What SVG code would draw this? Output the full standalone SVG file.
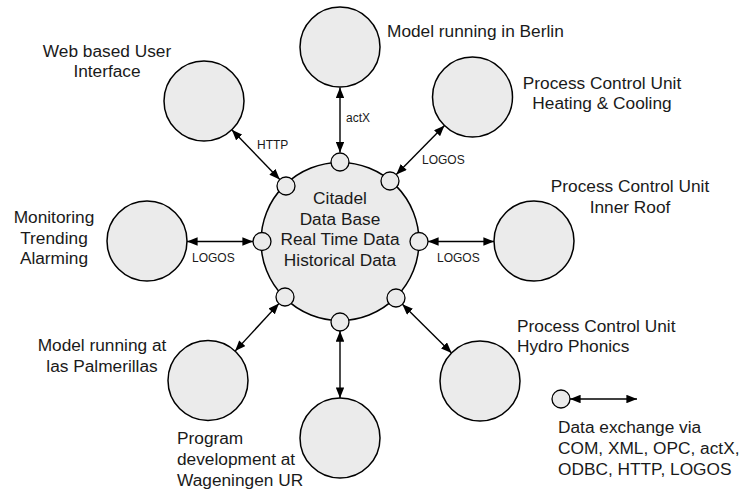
<svg xmlns="http://www.w3.org/2000/svg" width="742" height="491" viewBox="0 0 742 491">
<defs>
<style>
.n{fill:#ebebeb;stroke:#000;stroke-width:1.5}
.p{fill:#ebebeb;stroke:#000;stroke-width:1.3}
.t{font-family:"Liberation Sans",Arial,sans-serif;font-size:17.3px;fill:#1a1a1a}
.c{text-anchor:middle}
.l{font-family:"Liberation Sans",Arial,sans-serif;font-size:12px;fill:#1a1a1a}
.e{stroke:#000;stroke-width:1.4;fill:none;marker-start:url(#ah);marker-end:url(#ah)}
</style>
<marker id="ah" viewBox="0 0 10 8" refX="10" refY="4" markerWidth="11" markerHeight="8.5" markerUnits="userSpaceOnUse" orient="auto-start-reverse">
<path d="M0,0 L10,4 L0,8 Z" fill="#000"/>
</marker>
</defs>
<rect width="742" height="491" fill="#fff"/>
<g id="connectors">
<line class="e" x1="340" y1="87.5" x2="340" y2="152.5"/>
<line class="e" x1="231.8" y1="129.8" x2="279.8" y2="179.5"/>
<line class="e" x1="396.3" y1="174.6" x2="444.5" y2="125.6"/>
<line class="e" x1="428" y1="241.5" x2="494" y2="241.5"/>
<line class="e" x1="187" y1="241.5" x2="253" y2="241.5"/>
<line class="e" x1="402.4" y1="304.3" x2="451.6" y2="352.9"/>
<line class="e" x1="340" y1="331" x2="340" y2="398"/>
<line class="e" x1="278.9" y1="303.6" x2="235.1" y2="351.1"/>
<line class="e" x1="570" y1="399" x2="637" y2="399" style="marker-start:url(#ah)"/>
</g>
<g id="labels">
<text class="l" x="346" y="121.5">actX</text>
<text class="l" x="257" y="148.5">HTTP</text>
<text class="l" x="422" y="164">LOGOS</text>
<text class="l" x="437" y="261.5">LOGOS</text>
<text class="l" x="192" y="261.5">LOGOS</text>
</g>
<g id="citadel">
<circle class="n" cx="340" cy="241.5" r="79"/>
<text class="t c" x="340" y="204">Citadel</text>
<text class="t c" x="340" y="224.7">Data Base</text>
<text class="t c" x="340" y="245.4">Real Time Data</text>
<text class="t c" x="340" y="266.1">Historical Data</text>
</g>
<g id="ports">
<circle class="p" cx="340" cy="162" r="9"/>
<circle class="p" cx="286" cy="186" r="9"/>
<circle class="p" cx="390" cy="181" r="9"/>
<circle class="p" cx="262" cy="241.5" r="9"/>
<circle class="p" cx="419" cy="241.5" r="9"/>
<circle class="p" cx="285" cy="297" r="9"/>
<circle class="p" cx="396" cy="298" r="9"/>
<circle class="p" cx="340" cy="322" r="9"/>
</g>
<g id="berlin">
<circle class="n" cx="340" cy="47" r="40"/>
<text class="t" x="387" y="36.5">Model running in Berlin</text>
</g>
<g id="web">
<circle class="n" cx="204" cy="101" r="40"/>
<text class="t c" x="107" y="57">Web based User</text>
<text class="t c" x="107" y="77">Interface</text>
</g>
<g id="heating">
<circle class="n" cx="472.5" cy="97" r="40"/>
<text class="t c" x="602" y="88.5">Process Control Unit</text>
<text class="t c" x="602" y="109">Heating &amp; Cooling</text>
</g>
<g id="roof">
<circle class="n" cx="534" cy="241" r="40"/>
<text class="t c" x="630" y="191.5">Process Control Unit</text>
<text class="t c" x="630" y="212.5">Inner Roof</text>
</g>
<g id="monitoring">
<circle class="n" cx="147" cy="241" r="40"/>
<text class="t c" x="54" y="222.7">Monitoring</text>
<text class="t c" x="54" y="243.5">Trending</text>
<text class="t c" x="54" y="264.3">Alarming</text>
</g>
<g id="hydro">
<circle class="n" cx="480" cy="381" r="40"/>
<text class="t" x="517" y="331.7">Process Control Unit</text>
<text class="t" x="517" y="352.3">Hydro Phonics</text>
</g>
<g id="wageningen">
<circle class="n" cx="340" cy="438" r="40"/>
<text class="t" x="177" y="444">Program</text>
<text class="t" x="177" y="465">development at</text>
<text class="t" x="177" y="486">Wageningen UR</text>
</g>
<g id="palmerillas">
<circle class="n" cx="208" cy="380.5" r="40"/>
<text class="t c" x="102" y="351">Model running at</text>
<text class="t c" x="102" y="371.7">las Palmerillas</text>
</g>
<g id="legend">
<circle class="p" cx="561" cy="399" r="9"/>
<text class="t" x="558" y="433">Data exchange via</text>
<text class="t" x="558" y="454">COM, XML, OPC, actX,</text>
<text class="t" x="558" y="475">ODBC, HTTP, LOGOS</text>
</g>
</svg>
